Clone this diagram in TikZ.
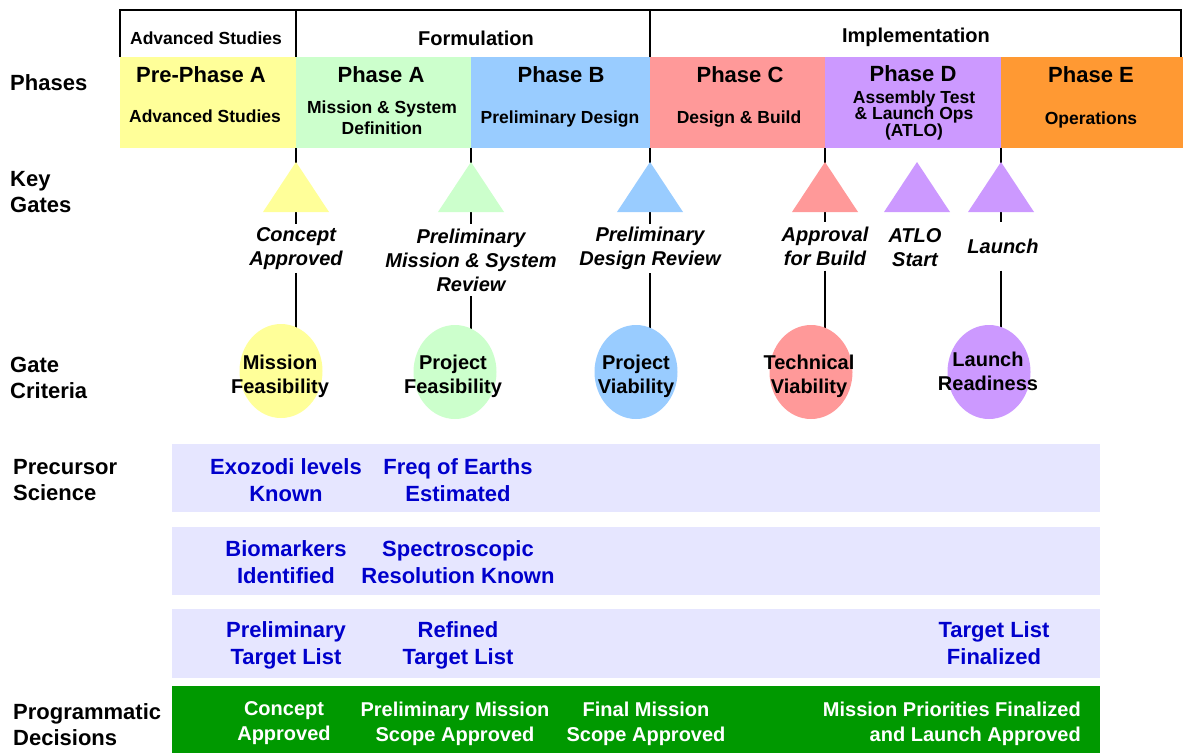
\documentclass[tikz,border=0pt]{standalone}
\usepackage{fontspec}
\setmainfont{Liberation Sans}
\usetikzlibrary{shapes.geometric,backgrounds}
\definecolor{cyel}{HTML}{FFFF99}
\definecolor{cgrn}{HTML}{CCFFCC}
\definecolor{cblu}{HTML}{99CCFF}
\definecolor{cpnk}{HTML}{FF9999}
\definecolor{cpur}{HTML}{CC99FF}
\definecolor{corg}{HTML}{FF9933}
\definecolor{clav}{HTML}{E6E6FF}
\definecolor{cdgr}{HTML}{009900}
\definecolor{ctxt}{HTML}{0000CC}
\begin{document}
\begin{tikzpicture}[x=1pt,y=-1pt,
  hdrline/.style={line width=2pt,black},
  hdrtxt/.style={font=\fontsize{20}{24}\selectfont\bfseries,inner sep=0pt},
  phasebox/.style={draw=none,minimum height=91pt,inner sep=0pt},
  ptitle/.style={font=\fontsize{22}{26}\selectfont\bfseries,inner sep=0pt},
  psub/.style={font=\fontsize{17.5}{21}\selectfont\bfseries,align=center,inner sep=0pt},
  sidelab/.style={font=\fontsize{22}{26}\selectfont\bfseries,align=left,anchor=west,inner sep=0pt},
  gline/.style={line width=2pt,black},
  glab/.style={font=\fontsize{20}{24}\selectfont\bfseries\itshape,align=center,inner xsep=0pt,inner ysep=3pt},
  gell/.style={ellipse,draw=none,minimum width=83pt,minimum height=94pt,inner sep=0pt},
  etxt/.style={font=\fontsize{20}{24}\selectfont\bfseries,align=center,inner sep=0pt},
  rowbox/.style={fill=clav,draw=none,minimum width=928pt,minimum height=68pt,inner sep=0pt},
  btxt/.style={font=\fontsize{22}{27}\selectfont\bfseries,align=center,text=ctxt,inner sep=0pt},
  wtxt/.style={font=\fontsize{20}{25}\selectfont\bfseries,text=white,inner sep=0pt}
]
\useasboundingbox (0,0) rectangle (1183,753);

% header box
\draw[hdrline] (120,57) -- (120,10) -- (1181,10) -- (1181,57);
\draw[hdrline] (296,10) -- (296,57);
\draw[hdrline] (650,10) -- (650,57);
\node[hdrtxt,font=\fontsize{17.5}{21}\selectfont\bfseries] (hadv) at (206,38) {Advanced Studies};
\node[hdrtxt] (hform) at (476,38) {Formulation};
\node[hdrtxt] (himpl) at (916,37) {Implementation};

% phase boxes
\node[phasebox,fill=cyel,minimum width=176pt] (pp) at (208,102.5) {};
\node[phasebox,fill=cgrn,minimum width=175pt] (pa) at (383.5,102.5) {};
\node[phasebox,fill=cblu,minimum width=179pt] (pb) at (560.5,102.5) {};
\node[phasebox,fill=cpnk,minimum width=175pt] (pc) at (737.5,102.5) {};
\node[phasebox,fill=cpur,minimum width=176pt] (pd) at (913,102.5) {};
\node[phasebox,fill=corg,minimum width=182pt] (pe) at (1092,102.5) {};

\node[ptitle] (tpp) at (201,75) {Pre-Phase A};
\node[psub] (spp) at (205,116) {Advanced Studies};
\node[ptitle] (tpa) at (381,75) {Phase A};
\node[psub] (spa) at (382,117.5) {Mission \& System\\Definition};
\node[ptitle] (tpb) at (561,75) {Phase B};
\node[psub] (spb) at (560,119) {Preliminary Design};
\node[ptitle] (tpc) at (740,75) {Phase C};
\node[psub] (spc) at (739,119) {Design \& Build};
\node[ptitle] (tpd) at (913,74) {Phase D};
\node[psub,font=\fontsize{17.5}{16.5}\selectfont\bfseries] (spd) at (914,115) {Assembly Test\\\& Launch Ops\\(ATLO)};
\node[ptitle] (tpe) at (1091,75) {Phase E};
\node[psub] (spe) at (1091,120) {Operations};

% side labels
\node[sidelab] (lph) at (10,83) {Phases};
\node[sidelab] (lkg) at (10,192) {Key\\Gates};
\node[sidelab] (lgc) at (10,378) {Gate\\Criteria};
\node[sidelab] (lps) at (13,480.5) {Precursor\\Science};
\node[sidelab] (lpd) at (13,725) {Programmatic\\Decisions};

% gate anchor points at phase boundaries
\coordinate (g1) at (296,148);
\coordinate (g2) at (471,148);
\coordinate (g3) at (650,148);
\coordinate (g4) at (825,148);
\coordinate (g6) at (1001,148);

% gate labels
\node[glab,minimum height=48pt] (l1) at (296,248.5) {Concept\\Approved};
\node[glab,minimum height=72pt] (l2) at (471,260) {Preliminary\\Mission \& System\\Review};
\node[glab,minimum height=48pt] (l3) at (650,248.5) {Preliminary\\Design Review};
\node[glab,minimum height=48pt] (l4) at (825,246.5) {Approval\\for Build};
\node[glab,minimum height=48pt] (l5) at (915,247.5) {ATLO\\Start};
\node[glab,minimum height=48pt] (l6) at (1003,246.5) {Launch};

% gate criteria ellipses
\node[gell,fill=cyel] (e1) at (281,371) {};
\node[gell,fill=cgrn] (e2) at (455,372) {};
\node[gell,fill=cblu] (e3) at (636,372) {};
\node[gell,fill=cpnk] (e4) at (811,372) {};
\node[gell,fill=cpur] (e6) at (989,372) {};
\node[etxt] (t1) at (280,376) {Mission\\Feasibility};
\node[etxt] (t2) at (453,376) {Project\\Feasibility};
\node[etxt] (t3) at (636,376) {Project\\Viability};
\node[etxt] (t4) at (809,376) {Technical\\Viability};
\node[etxt] (t6) at (988,371) {Launch\\Readiness};

% triangles (key gates)
\foreach \cx/\col/\nm in {296/cyel/k1,471/cgrn/k2,650/cblu/k3,825/cpnk/k4,917/cpur/k5,1001/cpur/k6}{
  \fill[\col] (\cx,162) coordinate (\nm) -- (\cx-33,212) -- (\cx+33,212) -- cycle;
}

% connectors on background layer
\begin{scope}[on background layer]
\fill[white] (0,0) rectangle (1183,753);
\foreach \i in {1,2,3,4,6}{
  \draw[gline] (g\i) -- (g\i |- l\i.north);
  \draw[gline] (g\i |- l\i.south) -- (g\i |- e\i.center);
}
\end{scope}

% precursor science rows
\node[rowbox] (r1) at (636,478) {};
\node[rowbox] (r2) at (636,561) {};
\node[rowbox,minimum height=69pt] (r3) at (636,643.5) {};
\node[fill=cdgr,draw=none,minimum width=928pt,minimum height=67pt,inner sep=0pt] (r4) at (636,719.5) {};

\node[btxt] (b11) at (286,480.5) {Exozodi levels\\Known};
\node[btxt] (b12) at (458,480.5) {Freq of Earths\\Estimated};
\node[btxt] (b21) at (286,562.5) {Biomarkers\\Identified};
\node[btxt] (b22) at (458,562.5) {Spectroscopic\\Resolution Known};
\node[btxt] (b31) at (286,645.5) {Preliminary\\Target List};
\node[btxt] (b32) at (458,645.5) {Refined\\Target List};
\node[btxt] (b33) at (994,643.5) {Target List\\Finalized};

\node[wtxt,align=center] (w1) at (284,723.5) {Concept\\Approved};
\node[wtxt,align=center] (w2) at (455,723.5) {Preliminary Mission\\Scope Approved};
\node[wtxt,align=center] (w3) at (646,723.5) {Final Mission\\Scope Approved};
\node[wtxt,align=right,anchor=east] (w4) at (1081,723.5) {Mission Priorities Finalized\\and Launch Approved};
\end{tikzpicture}
\end{document}
